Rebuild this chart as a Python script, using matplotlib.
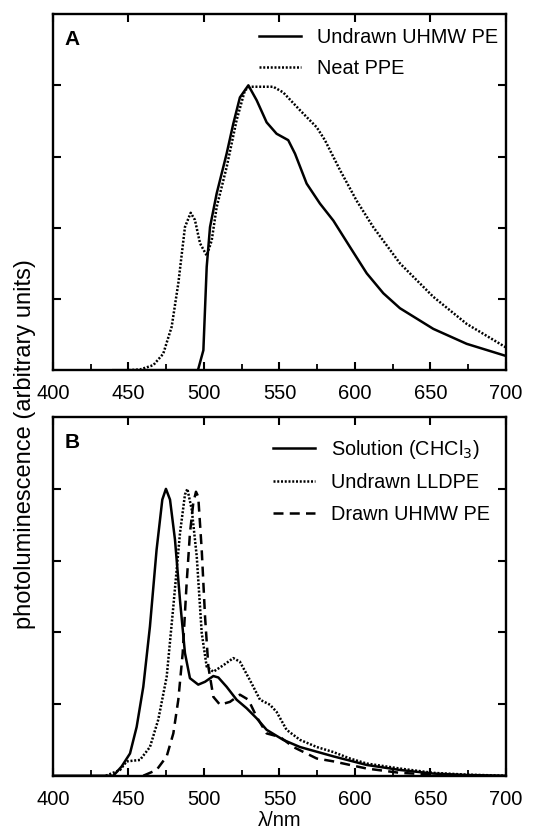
import matplotlib
matplotlib.use("Agg")
import matplotlib.pyplot as plt
from matplotlib.ticker import MultipleLocator

plt.rcParams['font.family'] = ['Liberation Sans', 'DejaVu Sans']

# panel A: undrawn UHMW PE (solid) and neat PPE (dotted)
a_solid_x = [440, 496, 499.6, 501.8, 504, 508.4, 515, 519.4, 523.8, 529.4, 534.9, 541.5, 548.1,
             555.8, 560.3, 568, 576.8, 585.7, 596.7, 607.8, 618.8, 629.8, 651.9, 674, 700]
a_solid_y = [0, 0, 0.28, 1.45, 2.01, 2.48, 3.04, 3.46, 3.83, 4.0, 3.79, 3.48, 3.32,
             3.23, 3.04, 2.62, 2.34, 2.10, 1.73, 1.36, 1.08, 0.87, 0.58, 0.37, 0.20]
a_dot_x = [450, 457.6, 466.4, 473, 478.6, 483, 487.4, 491.2, 494, 497.4, 501.8, 505.1, 508.4, 515,
           521.6, 527.1, 530.5, 545.9, 552.5, 563.6, 574.7, 580.1, 590.1, 601.1, 612.1, 629.8,
           651.9, 674, 700]
a_dot_y = [0, 0.01, 0.07, 0.23, 0.61, 1.22, 2.01, 2.21, 2.11, 1.78, 1.61, 1.82, 2.29, 2.85,
           3.51, 3.93, 3.98, 3.98, 3.90, 3.65, 3.41, 3.23, 2.81, 2.38, 2.01, 1.50,
           1.03, 0.65, 0.32]

# panel B: solution (solid), undrawn LLDPE (dotted), drawn UHMW PE (dashed)
b_sol_x = [400, 440, 445.5, 451, 455.4, 459.8, 464.2, 468.6, 472.4, 474.8, 477.5, 480.8, 484.1,
           487.4, 490.7, 496.2, 500.7, 506.2, 509.5, 515, 521.6, 528.3, 534.9, 541.5, 552.5,
           563.6, 585.7, 607.8, 629.8, 651.9, 674, 700]
b_sol_y = [0, 0, 0.13, 0.31, 0.68, 1.24, 2.08, 3.15, 3.85, 4.0, 3.85, 3.29, 2.45,
           1.71, 1.36, 1.27, 1.31, 1.39, 1.37, 1.24, 1.06, 0.94, 0.80, 0.64, 0.50,
           0.40, 0.27, 0.15, 0.08, 0.03, 0.01, 0]
b_dot_x = [435, 444.4, 448.8, 457.6, 464.2, 469.7, 475.3, 479.7, 484.1, 487.4, 489, 491.9, 495.2,
           498.5, 501.8, 506.2, 512.8, 519.4, 523.8, 530.5, 537.1, 543.7, 548.1, 554.7, 563.6,
           574.7, 585.7, 596.7, 607.8, 629.8, 651.9, 674, 700]
b_dot_y = [0, 0.08, 0.2, 0.22, 0.40, 0.78, 1.38, 2.36, 3.38, 3.92, 4.0, 3.71, 3.06,
           1.99, 1.52, 1.45, 1.54, 1.64, 1.59, 1.33, 1.06, 0.99, 0.89, 0.64, 0.50,
           0.40, 0.33, 0.24, 0.17, 0.10, 0.04, 0.015, 0]
b_dash_x = [459.8, 468.6, 475.3, 479.7, 483, 485.9, 488.5, 490.7, 492.9, 494.7, 496.2, 498.5,
            500.7, 502.9, 506.2, 510.6, 517.2, 523.8, 529.4, 534.9, 541.5, 550.4, 559.2,
            574.7, 585.7, 607.8, 629.8, 651.9, 680]
b_dash_y = [0, 0.08, 0.27, 0.59, 1.06, 1.71, 2.68, 3.38, 3.80, 3.96, 3.89, 3.15,
            2.22, 1.52, 1.10, 0.99, 1.03, 1.13, 1.06, 0.82, 0.59, 0.54, 0.40,
            0.24, 0.20, 0.10, 0.04, 0.015, 0]

x_ticks = [400, 450, 500, 550, 600, 650, 700]

fig = plt.figure(figsize=(5.51, 8.30), dpi=100)
axA = fig.add_axes([0.0962, 0.554, 0.822, 0.429])
axB = fig.add_axes([0.0962, 0.0654, 0.822, 0.432])

lw = 1.8
dots = (0, (0.8, 0.7))
axA.plot(a_solid_x, a_solid_y, color='black', lw=lw, label='Undrawn UHMW PE')
axA.plot(a_dot_x, a_dot_y, color='black', lw=lw, linestyle=dots, label='Neat PPE')

axB.plot(b_sol_x, b_sol_y, color='black', lw=lw, label='Solution (CHCl$_3$)')
axB.plot(b_dot_x, b_dot_y, color='black', lw=lw, linestyle=dots, label='Undrawn LLDPE')
axB.plot(b_dash_x, b_dash_y, color='black', lw=lw, linestyle=(0, (4, 2.5)), label='Drawn UHMW PE')

# legend anchors (axes fraction), one per panel
leg_anchor = {'A': (1.0, 0.983), 'B': (0.982, 0.964)}

for ax, letter in [(axA, 'A'), (axB, 'B')]:
    ax.set_xlim(400, 700)
    ax.set_ylim(0, 5)
    ax.set_xticks(x_ticks)
    ax.xaxis.set_minor_locator(MultipleLocator(25))
    ax.set_yticks([1, 2, 3, 4])
    ax.set_yticklabels([])
    ax.tick_params(which='major', direction='in', length=6, width=1.5, top=True, right=True,
                   labelsize=14.5, pad=10)
    ax.tick_params(which='minor', direction='in', length=4, width=1.3, top=False)
    for s in ax.spines.values():
        s.set_linewidth(1.7)
    ax.text(0.025, 0.93, letter, transform=ax.transAxes, fontsize=15, fontweight='bold',
            va='center', ha='left')
    ax.legend(loc='upper right', bbox_to_anchor=leg_anchor[letter], borderaxespad=0,
              frameon=False, fontsize=14.3, handlelength=2.1, handletextpad=0.8,
              labelspacing=0.62)

axB.set_xlabel('λ/nm', fontsize=14.5, labelpad=2)
fig.text(0.046, 0.465, 'photoluminescence (arbitrary units)', rotation=90, fontsize=17,
         ha='center', va='center')

fig.savefig('out.png', dpi=100)
